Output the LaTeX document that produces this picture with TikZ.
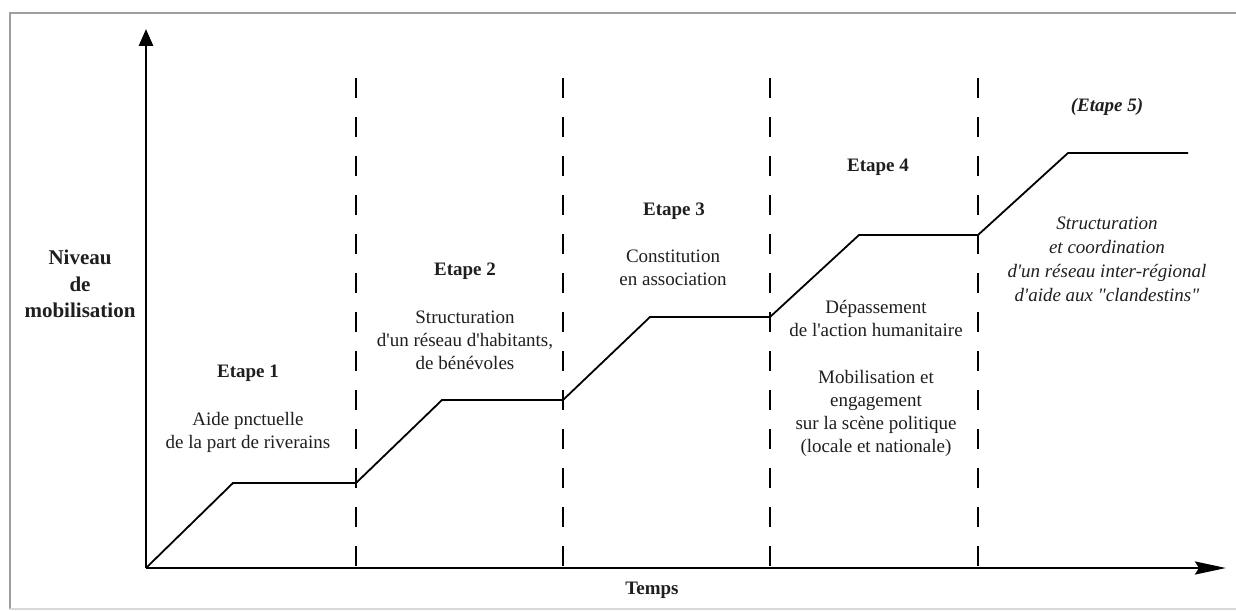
\documentclass[tikz,border=0pt]{standalone}
\usepackage{fontspec}
\setmainfont{Liberation Serif}
\usetikzlibrary{arrows.meta}
\begin{document}
\begin{tikzpicture}[x=1pt,y=-1pt,
  axis/.style={line width=2.8pt},
  curve/.style={line width=1.8pt, line join=miter},
  sep/.style={line width=2pt, dash pattern=on 20pt off 19pt},
  frame/.style={draw=black!38, line width=2pt},
  lbl/.style={inner sep=0pt, align=center, text=black!88, font=\fontsize{19}{23}\selectfont},
  blbl/.style={lbl, font=\fontsize{19}{23}\selectfont\bfseries},
  ilbl/.style={lbl, font=\fontsize{19}{24}\selectfont\itshape}
]
\useasboundingbox (0,0) rectangle (1236,610);
\fill[white] (0,0) rectangle (1236,610);
% frame
\coordinate (f1) at (10,609);
\coordinate (f2) at (10,13);
\coordinate (f3) at (1236,13);
\coordinate (f4) at (1236,609);
\draw[frame] (f1) -- (f2) -- (f3);
\draw[frame, draw=black!15, line width=1.5pt] (f1) -- (f4);
% separators
\foreach \n/\x in {1/356,2/563,3/770,4/978}{
  \coordinate (s\n t) at (\x,78);
  \coordinate (s\n b) at (\x,568);
  \draw[sep] (s\n t) -- (s\n b);
}
% curve
\coordinate (p0) at (146,568);
\coordinate (p1) at (233,483);
\coordinate (p2) at (356,483);
\coordinate (p3) at (442,400);
\coordinate (p4) at (563,400);
\coordinate (p5) at (650,317);
\coordinate (p6) at (770,317);
\coordinate (p7) at (859,235);
\coordinate (p8) at (978,235);
\coordinate (p9) at (1068,153);
\coordinate (p10) at (1188,153);
\draw[curve] (p0) -- (p1) -- (p2) -- (p3) -- (p4) -- (p5) -- (p6) -- (p7) -- (p8) -- (p9) -- (p10);
% axes
\coordinate (O) at (146,568);
\coordinate (ytip) at (146,29);
\coordinate (xtip) at (1226,568);
\draw[axis, -{Triangle[length=17pt,width=14pt]}] (O) -- (ytip);
\draw[axis, -{Stealth[length=31pt,width=13pt,inset=4pt]}] (O) -- (xtip);
% labels
\node[blbl, font=\fontsize{21}{26.5}\selectfont\bfseries] (niveau) at (80,284) {Niveau\\de\\mobilisation};
\node[blbl] (temps) at (652,590) {Temps};
\node[blbl] (etape1) at (248,373) {Etape 1};
\node[lbl] (t1) at (248,432) {Aide pnctuelle\\de la part de riverains};
\node[blbl] (etape2) at (465,271) {Etape 2};
\node[lbl] (t2) at (465,340) {Structuration\\d\textquotesingle un réseau d\textquotesingle habitants,\\de bénévoles};
\node[blbl] (etape3) at (674,211) {Etape 3};
\node[lbl] (t3) at (673,268) {Constitution\\en association};
\node[blbl] (etape4) at (878,167) {Etape 4};
\node[lbl] (t4a) at (876,318) {Dépassement\\de l\textquotesingle action humanitaire};
\node[lbl] (t4b) at (876,413) {Mobilisation et\\engagement\\sur la scène politique\\(locale et nationale)};
\node[blbl, font=\fontsize{19}{23}\selectfont\bfseries\itshape] (etape5) at (1107,107) {(Etape 5)};
\node[ilbl] (t5) at (1107,259.5) {Structuration\\et coordination\\d\textquotesingle un réseau inter-régional\\d\textquotesingle aide aux \textquotedbl clandestins\textquotedbl};
\end{tikzpicture}
\end{document}
